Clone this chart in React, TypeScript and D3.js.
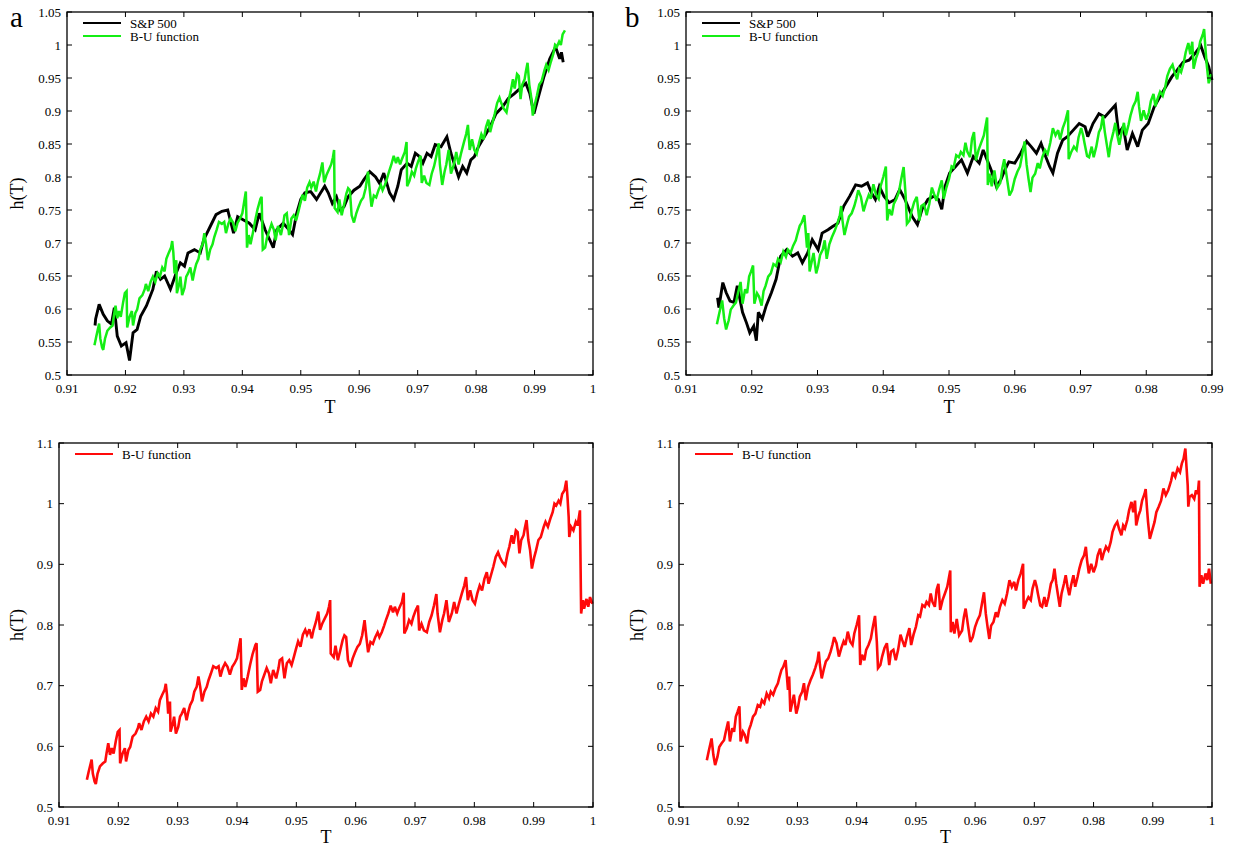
import { useEffect, useRef } from 'react';
import * as d3 from 'd3';

type Pt = [number, number]; // [T, h(T)]

// S&P 500, window a
const spA: Pt[] = [
    [0.9148, 0.575], [0.9149, 0.585], [0.9155, 0.607], [0.9162, 0.592], [0.9169, 0.582], [0.9176, 0.577], [0.9181, 0.602], [0.9186, 0.559], [0.9193, 0.544], [0.9201, 0.549],
    [0.9207, 0.522], [0.9213, 0.564], [0.9220, 0.569], [0.9226, 0.589], [0.9236, 0.605], [0.9247, 0.630], [0.9253, 0.657], [0.9260, 0.645], [0.9267, 0.650], [0.9277, 0.630],
    [0.9287, 0.655], [0.9294, 0.670], [0.9301, 0.665], [0.9307, 0.685], [0.9318, 0.690], [0.9328, 0.685], [0.9334, 0.705], [0.9345, 0.725], [0.9355, 0.743], [0.9365, 0.748],
    [0.9375, 0.750], [0.9385, 0.715], [0.9392, 0.740], [0.9402, 0.735], [0.9412, 0.730], [0.9422, 0.720], [0.9429, 0.745], [0.9439, 0.720], [0.9453, 0.693], [0.9459, 0.720],
    [0.9470, 0.730], [0.9480, 0.720], [0.9486, 0.713], [0.9493, 0.745], [0.9500, 0.766], [0.9507, 0.776], [0.9517, 0.778], [0.9527, 0.766], [0.9534, 0.776], [0.9541, 0.786],
    [0.9547, 0.776], [0.9554, 0.760], [0.9561, 0.770], [0.9568, 0.750], [0.9574, 0.755], [0.9581, 0.770], [0.9591, 0.780], [0.9601, 0.786], [0.9608, 0.796], [0.9618, 0.808],
    [0.9628, 0.800], [0.9635, 0.790], [0.9642, 0.806], [0.9652, 0.776], [0.9659, 0.766], [0.9666, 0.786], [0.9672, 0.811], [0.9682, 0.821], [0.9689, 0.816], [0.9696, 0.836],
    [0.9703, 0.831], [0.9709, 0.821], [0.9716, 0.836], [0.9723, 0.831], [0.9730, 0.849], [0.9740, 0.846], [0.9750, 0.861], [0.9757, 0.836], [0.9764, 0.816], [0.9770, 0.800],
    [0.9777, 0.816], [0.9784, 0.806], [0.9791, 0.826], [0.9797, 0.831], [0.9804, 0.846], [0.9814, 0.861], [0.9824, 0.876], [0.9834, 0.896], [0.9845, 0.906], [0.9855, 0.919],
    [0.9865, 0.926], [0.9875, 0.934], [0.9885, 0.942], [0.9892, 0.926], [0.9899, 0.896], [0.9905, 0.916], [0.9916, 0.952], [0.9926, 0.979], [0.9936, 0.997], [0.9943, 0.979],
    [0.9946, 0.989], [0.9949, 0.974]
];

// S&P 500, window b
const spB: Pt[] = [
    [0.9148, 0.617], [0.9150, 0.602], [0.9156, 0.640], [0.9161, 0.625], [0.9167, 0.612], [0.9173, 0.610], [0.9178, 0.635], [0.9182, 0.615], [0.9186, 0.595], [0.9192, 0.579],
    [0.9197, 0.564], [0.9203, 0.574], [0.9207, 0.552], [0.9210, 0.595], [0.9216, 0.585], [0.9222, 0.605], [0.9230, 0.625], [0.9237, 0.645], [0.9244, 0.680], [0.9253, 0.690],
    [0.9262, 0.680], [0.9270, 0.685], [0.9277, 0.670], [0.9285, 0.685], [0.9292, 0.705], [0.9301, 0.690], [0.9307, 0.715], [0.9316, 0.720], [0.9323, 0.725], [0.9331, 0.730],
    [0.9340, 0.756], [0.9349, 0.771], [0.9358, 0.788], [0.9367, 0.786], [0.9376, 0.791], [0.9382, 0.776], [0.9388, 0.766], [0.9394, 0.786], [0.9401, 0.771], [0.9409, 0.761],
    [0.9418, 0.766], [0.9425, 0.781], [0.9433, 0.766], [0.9444, 0.740], [0.9452, 0.728], [0.9459, 0.751], [0.9468, 0.766], [0.9477, 0.771], [0.9484, 0.766], [0.9489, 0.751],
    [0.9494, 0.786], [0.9501, 0.806], [0.9510, 0.816], [0.9519, 0.826], [0.9528, 0.806], [0.9537, 0.831], [0.9546, 0.821], [0.9552, 0.841], [0.9558, 0.826], [0.9564, 0.811],
    [0.9572, 0.786], [0.9579, 0.796], [0.9585, 0.811], [0.9591, 0.823], [0.9600, 0.821], [0.9609, 0.836], [0.9618, 0.854], [0.9625, 0.846], [0.9633, 0.836], [0.9640, 0.851],
    [0.9647, 0.831], [0.9653, 0.816], [0.9658, 0.806], [0.9665, 0.836], [0.9673, 0.856], [0.9680, 0.861], [0.9689, 0.871], [0.9698, 0.881], [0.9707, 0.876], [0.9711, 0.861],
    [0.9719, 0.881], [0.9728, 0.896], [0.9737, 0.891], [0.9746, 0.901], [0.9753, 0.909], [0.9758, 0.866], [0.9765, 0.876], [0.9771, 0.841], [0.9779, 0.866], [0.9787, 0.846],
    [0.9794, 0.871], [0.9803, 0.881], [0.9812, 0.906], [0.9821, 0.922], [0.9830, 0.937], [0.9839, 0.952], [0.9847, 0.962], [0.9856, 0.974], [0.9865, 0.977], [0.9874, 0.987],
    [0.9883, 0.999], [0.9889, 0.982], [0.9895, 0.967], [0.9900, 0.947]
];

// B-U function, fit a (green in panel a up to T = 0.995, red in panel c)
const buA: Pt[] = [
    [0.9147, 0.545], [0.9150, 0.558], [0.9155, 0.578], [0.9157, 0.555], [0.9160, 0.542], [0.9162, 0.538], [0.9165, 0.555], [0.9169, 0.567], [0.9174, 0.572], [0.9178, 0.575],
    [0.9180, 0.588], [0.9183, 0.605], [0.9186, 0.586], [0.9189, 0.597], [0.9192, 0.588], [0.9196, 0.610], [0.9199, 0.624], [0.9202, 0.627], [0.9203, 0.572], [0.9207, 0.588],
    [0.9211, 0.597], [0.9213, 0.575], [0.9217, 0.594], [0.9220, 0.599], [0.9224, 0.616], [0.9229, 0.621], [0.9233, 0.630], [0.9235, 0.638], [0.9239, 0.627], [0.9243, 0.641],
    [0.9247, 0.649], [0.9251, 0.641], [0.9255, 0.654], [0.9259, 0.649], [0.9263, 0.663], [0.9267, 0.657], [0.9270, 0.676], [0.9274, 0.685], [0.9278, 0.693], [0.9280, 0.703],
    [0.9282, 0.685], [0.9284, 0.654], [0.9287, 0.674], [0.9288, 0.624], [0.9292, 0.638], [0.9294, 0.649], [0.9297, 0.621], [0.9301, 0.632], [0.9304, 0.649], [0.9307, 0.654],
    [0.9311, 0.663], [0.9315, 0.643], [0.9318, 0.657], [0.9321, 0.668], [0.9325, 0.676], [0.9328, 0.690], [0.9332, 0.698], [0.9335, 0.715], [0.9338, 0.698], [0.9341, 0.674],
    [0.9345, 0.690], [0.9349, 0.698], [0.9352, 0.709], [0.9356, 0.720], [0.9360, 0.732], [0.9365, 0.729], [0.9369, 0.732], [0.9372, 0.715], [0.9376, 0.729], [0.9380, 0.737],
    [0.9384, 0.731], [0.9388, 0.718], [0.9392, 0.731], [0.9396, 0.737], [0.9400, 0.745], [0.9403, 0.762], [0.9406, 0.778], [0.9408, 0.693], [0.9411, 0.712], [0.9414, 0.698],
    [0.9418, 0.715], [0.9422, 0.734], [0.9426, 0.751], [0.9431, 0.767], [0.9433, 0.770], [0.9435, 0.690], [0.9439, 0.693], [0.9442, 0.707], [0.9446, 0.718], [0.9450, 0.729],
    [0.9454, 0.720], [0.9457, 0.704], [0.9461, 0.726], [0.9466, 0.712], [0.9470, 0.729], [0.9472, 0.742], [0.9476, 0.745], [0.9480, 0.712], [0.9484, 0.737], [0.9488, 0.742],
    [0.9492, 0.734], [0.9496, 0.748], [0.9499, 0.759], [0.9503, 0.773], [0.9507, 0.764], [0.9511, 0.784], [0.9515, 0.792], [0.9518, 0.784], [0.9522, 0.793], [0.9526, 0.778],
    [0.9529, 0.792], [0.9533, 0.805], [0.9537, 0.822], [0.9540, 0.792], [0.9544, 0.803], [0.9548, 0.811], [0.9552, 0.819], [0.9555, 0.830], [0.9557, 0.841], [0.9558, 0.753],
    [0.9563, 0.747], [0.9566, 0.766], [0.9570, 0.742], [0.9574, 0.758], [0.9578, 0.775], [0.9581, 0.783], [0.9584, 0.780], [0.9587, 0.742], [0.9591, 0.731], [0.9595, 0.745],
    [0.9599, 0.755], [0.9603, 0.764], [0.9607, 0.769], [0.9611, 0.783], [0.9615, 0.808], [0.9618, 0.780], [0.9621, 0.755], [0.9625, 0.772], [0.9629, 0.769], [0.9633, 0.780],
    [0.9637, 0.788], [0.9640, 0.780], [0.9644, 0.788], [0.9648, 0.799], [0.9651, 0.808], [0.9655, 0.819], [0.9659, 0.832], [0.9663, 0.821], [0.9666, 0.830], [0.9670, 0.819],
    [0.9673, 0.827], [0.9678, 0.838], [0.9681, 0.853], [0.9682, 0.786], [0.9686, 0.794], [0.9690, 0.808], [0.9694, 0.802], [0.9697, 0.813], [0.9701, 0.824], [0.9705, 0.832],
    [0.9707, 0.791], [0.9711, 0.802], [0.9715, 0.791], [0.9720, 0.788], [0.9724, 0.805], [0.9728, 0.816], [0.9732, 0.832], [0.9736, 0.851], [0.9738, 0.819], [0.9742, 0.788],
    [0.9746, 0.808], [0.9749, 0.819], [0.9753, 0.841], [0.9757, 0.805], [0.9762, 0.819], [0.9766, 0.838], [0.9770, 0.819], [0.9774, 0.835], [0.9779, 0.852], [0.9783, 0.865],
    [0.9786, 0.879], [0.9789, 0.841], [0.9793, 0.857], [0.9797, 0.841], [0.9801, 0.835], [0.9805, 0.852], [0.9809, 0.865], [0.9813, 0.857], [0.9817, 0.876], [0.9821, 0.887],
    [0.9824, 0.868], [0.9828, 0.882], [0.9832, 0.896], [0.9836, 0.912], [0.9840, 0.920], [0.9843, 0.912], [0.9847, 0.904], [0.9852, 0.898], [0.9856, 0.918], [0.9859, 0.929],
    [0.9863, 0.948], [0.9866, 0.934], [0.9870, 0.956], [0.9873, 0.953], [0.9876, 0.918], [0.9879, 0.940], [0.9883, 0.948], [0.9885, 0.959], [0.9888, 0.973], [0.9891, 0.940],
    [0.9894, 0.923], [0.9897, 0.893], [0.9901, 0.912], [0.9904, 0.923], [0.9908, 0.940], [0.9912, 0.945], [0.9917, 0.962], [0.9920, 0.970], [0.9924, 0.962], [0.9928, 0.975],
    [0.9932, 0.986], [0.9935, 1.000], [0.9938, 0.997], [0.9942, 1.005], [0.9945, 1.000], [0.9948, 1.016], [0.9952, 1.022], [0.9955, 1.038], [0.9957, 1.011], [0.9959, 0.978],
    [0.9960, 0.945], [0.9963, 0.962], [0.9967, 0.956], [0.9971, 0.970], [0.9974, 0.964], [0.9978, 0.989], [0.9980, 0.819], [0.9983, 0.841], [0.9985, 0.827], [0.9989, 0.843],
    [0.9992, 0.830], [0.9995, 0.846], [0.9999, 0.835]
];

// B-U function, fit b (green in panel b up to T = 0.99, red in panel d)
const buB: Pt[] = [
    [0.9147, 0.577], [0.9150, 0.591], [0.9155, 0.613], [0.9158, 0.586], [0.9161, 0.569], [0.9165, 0.583], [0.9168, 0.599], [0.9172, 0.605], [0.9176, 0.610], [0.9179, 0.624],
    [0.9183, 0.641], [0.9186, 0.608], [0.9190, 0.630], [0.9193, 0.624], [0.9196, 0.649], [0.9199, 0.657], [0.9202, 0.666], [0.9204, 0.608], [0.9208, 0.624], [0.9211, 0.619],
    [0.9215, 0.605], [0.9218, 0.627], [0.9221, 0.635], [0.9225, 0.649], [0.9229, 0.654], [0.9233, 0.668], [0.9237, 0.665], [0.9240, 0.676], [0.9244, 0.671], [0.9248, 0.687],
    [0.9252, 0.679], [0.9255, 0.690], [0.9259, 0.685], [0.9263, 0.696], [0.9267, 0.704], [0.9269, 0.712], [0.9273, 0.726], [0.9276, 0.731], [0.9280, 0.742], [0.9282, 0.718],
    [0.9284, 0.693], [0.9286, 0.715], [0.9288, 0.657], [0.9291, 0.671], [0.9294, 0.685], [0.9298, 0.654], [0.9301, 0.665], [0.9304, 0.682], [0.9308, 0.690], [0.9311, 0.704],
    [0.9314, 0.676], [0.9318, 0.698], [0.9322, 0.709], [0.9326, 0.718], [0.9330, 0.729], [0.9334, 0.742], [0.9336, 0.756], [0.9338, 0.734], [0.9341, 0.712], [0.9345, 0.729],
    [0.9348, 0.740], [0.9352, 0.745], [0.9356, 0.756], [0.9359, 0.767], [0.9362, 0.780], [0.9366, 0.770], [0.9370, 0.748], [0.9374, 0.762], [0.9378, 0.773], [0.9381, 0.767],
    [0.9385, 0.789], [0.9389, 0.773], [0.9393, 0.767], [0.9396, 0.786], [0.9400, 0.800], [0.9404, 0.816], [0.9406, 0.734], [0.9409, 0.751], [0.9413, 0.742], [0.9416, 0.759],
    [0.9420, 0.767], [0.9424, 0.778], [0.9427, 0.795], [0.9431, 0.815], [0.9434, 0.773], [0.9436, 0.729], [0.9440, 0.734], [0.9443, 0.748], [0.9447, 0.762], [0.9451, 0.770],
    [0.9455, 0.734], [0.9458, 0.756], [0.9462, 0.759], [0.9466, 0.742], [0.9470, 0.759], [0.9474, 0.784], [0.9477, 0.775], [0.9481, 0.764], [0.9485, 0.781], [0.9489, 0.795],
    [0.9492, 0.767], [0.9496, 0.784], [0.9500, 0.797], [0.9504, 0.816], [0.9507, 0.814], [0.9511, 0.833], [0.9515, 0.830], [0.9518, 0.838], [0.9522, 0.833], [0.9525, 0.852],
    [0.9528, 0.838], [0.9532, 0.830], [0.9535, 0.858], [0.9538, 0.868], [0.9541, 0.825], [0.9545, 0.841], [0.9549, 0.852], [0.9553, 0.863], [0.9558, 0.890], [0.9559, 0.788],
    [0.9562, 0.805], [0.9565, 0.786], [0.9569, 0.810], [0.9573, 0.783], [0.9578, 0.791], [0.9581, 0.813], [0.9584, 0.827], [0.9588, 0.799], [0.9592, 0.772], [0.9596, 0.780],
    [0.9600, 0.797], [0.9604, 0.808], [0.9608, 0.816], [0.9611, 0.832], [0.9615, 0.854], [0.9618, 0.819], [0.9621, 0.797], [0.9624, 0.777], [0.9627, 0.799], [0.9631, 0.805],
    [0.9635, 0.821], [0.9638, 0.813], [0.9642, 0.830], [0.9646, 0.841], [0.9650, 0.835], [0.9654, 0.852], [0.9658, 0.874], [0.9662, 0.863], [0.9666, 0.871], [0.9669, 0.857],
    [0.9673, 0.874], [0.9677, 0.885], [0.9681, 0.901], [0.9682, 0.827], [0.9686, 0.838], [0.9690, 0.846], [0.9694, 0.841], [0.9697, 0.860], [0.9701, 0.874], [0.9704, 0.863],
    [0.9706, 0.852], [0.9710, 0.832], [0.9713, 0.830], [0.9717, 0.846], [0.9720, 0.830], [0.9724, 0.846], [0.9728, 0.868], [0.9731, 0.874], [0.9734, 0.893], [0.9737, 0.868],
    [0.9740, 0.849], [0.9743, 0.830], [0.9746, 0.852], [0.9750, 0.868], [0.9753, 0.882], [0.9756, 0.863], [0.9759, 0.849], [0.9762, 0.865], [0.9766, 0.882], [0.9769, 0.863],
    [0.9773, 0.879], [0.9776, 0.893], [0.9780, 0.907], [0.9784, 0.915], [0.9787, 0.929], [0.9789, 0.907], [0.9792, 0.885], [0.9796, 0.901], [0.9800, 0.887], [0.9804, 0.898],
    [0.9807, 0.915], [0.9811, 0.926], [0.9814, 0.907], [0.9817, 0.918], [0.9821, 0.929], [0.9825, 0.923], [0.9829, 0.937], [0.9832, 0.953], [0.9836, 0.964], [0.9840, 0.970],
    [0.9843, 0.959], [0.9847, 0.948], [0.9850, 0.964], [0.9853, 0.959], [0.9857, 0.973], [0.9860, 0.989], [0.9864, 1.003], [0.9867, 0.986], [0.9870, 1.005], [0.9872, 0.964],
    [0.9876, 0.981], [0.9879, 0.989], [0.9882, 1.005], [0.9886, 1.016], [0.9888, 1.024], [0.9890, 0.995], [0.9892, 0.970], [0.9895, 0.942], [0.9899, 0.956], [0.9903, 0.970],
    [0.9906, 0.986], [0.9910, 0.995], [0.9914, 1.005], [0.9918, 1.025], [0.9922, 1.014], [0.9926, 1.022], [0.9931, 1.038], [0.9934, 1.052], [0.9938, 1.044], [0.9942, 1.058],
    [0.9946, 1.052], [0.9949, 1.066], [0.9952, 1.074], [0.9955, 1.091], [0.9957, 1.060], [0.9959, 1.030], [0.9960, 0.995], [0.9962, 1.011], [0.9966, 1.014], [0.9970, 1.008],
    [0.9973, 1.022], [0.9976, 1.016], [0.9978, 1.038], [0.9979, 0.863], [0.9982, 0.882], [0.9985, 0.868], [0.9989, 0.885], [0.9992, 0.874], [0.9995, 0.893], [0.9998, 0.868]
];

// ticks
const xTicksFull = [0.91, 0.92, 0.93, 0.94, 0.95, 0.96, 0.97, 0.98, 0.99, 1];
const xTicksShort = [0.91, 0.92, 0.93, 0.94, 0.95, 0.96, 0.97, 0.98, 0.99];
const yTicksFine = [0.5, 0.55, 0.6, 0.65, 0.7, 0.75, 0.8, 0.85, 0.9, 0.95, 1, 1.05];
const yTicksCoarse = [0.5, 0.6, 0.7, 0.8, 0.9, 1, 1.1];

const FONT = '"Liberation Serif", "Times New Roman", serif';

interface Series { data: Pt[]; tMax?: number; color: string; width: number; name: string; }
interface Panel {
    left: number; right: number; top: number; bottom: number;
    xDomain: [number, number]; yDomain: [number, number];
    xTicks: number[]; yTicks: number[];
    series: Series[]; letter?: string; letterX?: number; yLabelX: number; tLabelDy: number;
}

const BLACK = '#000000';
const GREEN = '#14ee14';
const RED = '#ff0a0a';

const panels: Panel[] = [
    {
        left: 67, right: 593, top: 12, bottom: 375, xDomain: [0.91, 1], yDomain: [0.5, 1.05],
        xTicks: xTicksFull, yTicks: yTicksFine, letter: 'a', letterX: 10, yLabelX: 23, tLabelDy: 38,
        series: [
            { data: spA, color: BLACK, width: 2.9, name: 'S&P 500' },
            { data: buA, tMax: 0.9952, color: GREEN, width: 2.5, name: 'B-U function' }
        ]
    },
    {
        left: 686, right: 1212, top: 12, bottom: 375, xDomain: [0.91, 0.99], yDomain: [0.5, 1.05],
        xTicks: xTicksShort, yTicks: yTicksFine, letter: 'b', letterX: 625, yLabelX: 643, tLabelDy: 38,
        series: [
            { data: spB, color: BLACK, width: 2.9, name: 'S&P 500' },
            { data: buB, tMax: 0.9901, color: GREEN, width: 2.5, name: 'B-U function' }
        ]
    },
    {
        left: 59, right: 593, top: 443, bottom: 807, xDomain: [0.91, 1], yDomain: [0.5, 1.1],
        xTicks: xTicksFull, yTicks: yTicksCoarse, yLabelX: 23, tLabelDy: 36,
        series: [{ data: buA, color: RED, width: 2.6, name: 'B-U function' }]
    },
    {
        left: 679, right: 1212, top: 443, bottom: 807, xDomain: [0.91, 1], yDomain: [0.5, 1.1],
        xTicks: xTicksFull, yTicks: yTicksCoarse, yLabelX: 643, tLabelDy: 36,
        series: [{ data: buB, color: RED, width: 2.6, name: 'B-U function' }]
    }
];

export default function App() {
    const svgRef = useRef<SVGSVGElement>(null);

    useEffect(() => {
        if (!svgRef.current) return;
        const svg = d3.select(svgRef.current);
        svg.selectAll("*").remove();

        svg.append("rect").attr("width", 1236).attr("height", 847).attr("fill", "#fff");

        panels.forEach(p => {
            const x = d3.scaleLinear().domain(p.xDomain).range([p.left, p.right]);
            const y = d3.scaleLinear().domain(p.yDomain).range([p.bottom, p.top]);
            const g = svg.append("g");

            // data lines
            const line = d3.line<Pt>().x(d => x(d[0])).y(d => y(d[1]));
            p.series.forEach(s => {
                const pts = s.data.filter(d => s.tMax === undefined || d[0] <= s.tMax);
                g.append("path")
                    .attr("d", line(pts) || "")
                    .attr("fill", "none")
                    .attr("stroke", s.color)
                    .attr("stroke-width", s.width)
                    .attr("stroke-linejoin", "miter")
                    .attr("stroke-miterlimit", 3);
            });

            // ticks, inward on all four sides
            const tickLen = 5;
            p.xTicks.forEach(t => {
                const xx = x(t);
                g.append("line").attr("x1", xx).attr("x2", xx).attr("y1", p.bottom).attr("y2", p.bottom - tickLen)
                    .attr("stroke", "#000").attr("stroke-width", 1);
                g.append("line").attr("x1", xx).attr("x2", xx).attr("y1", p.top).attr("y2", p.top + tickLen)
                    .attr("stroke", "#000").attr("stroke-width", 1);
                g.append("text").attr("x", xx).attr("y", p.bottom + 17.5)
                    .attr("text-anchor", "middle").attr("font-family", FONT).attr("font-size", 13)
                    .attr("fill", "#000").text(String(t));
            });
            p.yTicks.forEach(t => {
                const yy = y(t);
                g.append("line").attr("x1", p.left).attr("x2", p.left + tickLen).attr("y1", yy).attr("y2", yy)
                    .attr("stroke", "#000").attr("stroke-width", 1);
                g.append("line").attr("x1", p.right).attr("x2", p.right - tickLen).attr("y1", yy).attr("y2", yy)
                    .attr("stroke", "#000").attr("stroke-width", 1);
                g.append("text").attr("x", p.left - 6).attr("y", yy + 4.5)
                    .attr("text-anchor", "end").attr("font-family", FONT).attr("font-size", 13)
                    .attr("fill", "#000").text(String(t));
            });

            // frame
            g.append("rect")
                .attr("x", p.left).attr("y", p.top)
                .attr("width", p.right - p.left).attr("height", p.bottom - p.top)
                .attr("fill", "none").attr("stroke", "#000").attr("stroke-width", 1.3);

            // axis titles
            g.append("text").attr("x", (p.left + p.right) / 2).attr("y", p.bottom + p.tLabelDy)
                .attr("text-anchor", "middle").attr("font-family", FONT).attr("font-size", 18)
                .text("T");
            g.append("text")
                .attr("transform", `translate(${p.yLabelX},${(p.top + p.bottom) / 2}) rotate(-90)`)
                .attr("text-anchor", "middle").attr("font-family", FONT).attr("font-size", 18)
                .text("h(T)");

            // legend
            p.series.forEach((s, i) => {
                const ly = p.top + 11 + i * 13;
                g.append("line").attr("x1", p.left + 16).attr("x2", p.left + 54).attr("y1", ly).attr("y2", ly)
                    .attr("stroke", s.color).attr("stroke-width", 2.2);
                g.append("text").attr("x", p.left + 63).attr("y", ly + 4.5)
                    .attr("font-family", FONT).attr("font-size", 13).text(s.name);
            });

            if (p.letter) {
                svg.append("text").attr("x", p.letterX || 0).attr("y", 27)
                    .attr("font-family", FONT).attr("font-size", 29).text(p.letter);
            }
        });
    }, []);

    return (
        <div style={{ position: 'absolute', left: 0, top: 0 }}>
            <svg ref={svgRef} width={1236} height={847} viewBox="0 0 1236 847" style={{ display: 'block' }} />
        </div>
    );
}
